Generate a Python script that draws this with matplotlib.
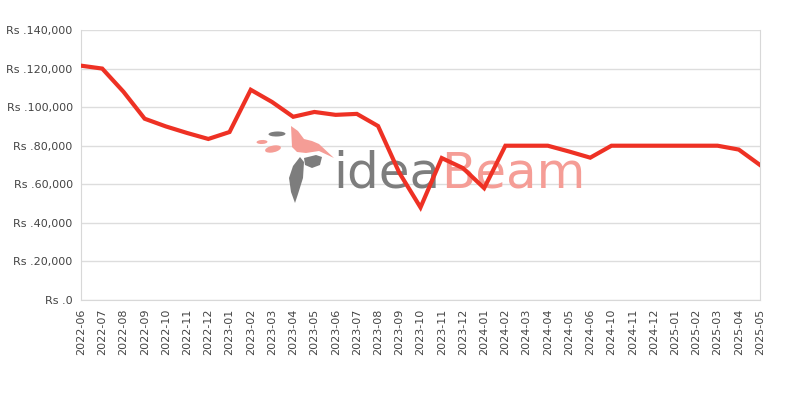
import matplotlib.pyplot as plt
from matplotlib.patches import Ellipse, Polygon

months = ['2022-06', '2022-07', '2022-08', '2022-09', '2022-10', '2022-11', '2022-12',
          '2023-01', '2023-02', '2023-03', '2023-04', '2023-05', '2023-06', '2023-07',
          '2023-08', '2023-09', '2023-10', '2023-11', '2023-12', '2024-01', '2024-02',
          '2024-03', '2024-04', '2024-05', '2024-06', '2024-10', '2024-11', '2024-12',
          '2025-01', '2025-02', '2025-03', '2025-04', '2025-05']
prices = [121500, 120000, 108000, 94000, 90000, 86600, 83500,
          87100, 109000, 102700, 95000, 97500, 96000, 96500,
          90200, 66000, 48000, 73600, 68400, 58000, 80000,
          80000, 80000, 77000, 73800, 80000, 80000, 80000,
          80000, 80000, 80000, 78000, 70000]
yticks = [0, 20000, 40000, 60000, 80000, 100000, 120000, 140000]

GRAY = '#7d7d7d'
PINK = '#f59d96'

fig = plt.figure(figsize=(8, 4), dpi=100, facecolor='white')
ax = fig.add_axes([81/800, 100/400, 679/800, 270/400])


def fp(pts):
    # pixel coords (top-left origin) -> figure fraction
    return [(x / 800, 1 - y / 400) for x, y in pts]


def logo_poly(pts, color):
    fig.patches.append(Polygon(fp(pts), closed=True, transform=fig.transFigure,
                               color=color, lw=0, zorder=1))


def logo_ell(cx, cy, w, h, ang, color):
    fig.patches.append(Ellipse((cx / 800, 1 - cy / 400), w / 800, h / 400, angle=ang,
                               transform=fig.transFigure, color=color, lw=0, zorder=1))


# watermark logo
logo_poly([(291, 126), (298, 131), (304, 139), (312, 141), (319, 144), (334, 158),
           (319, 151), (306, 153), (297, 152), (292, 147)], PINK)
logo_poly([(300, 157), (304, 162), (303, 178), (298, 194), (295, 203), (291, 192),
           (289, 178), (293, 166)], GRAY)
logo_poly([(304, 158), (316, 155), (322, 157), (320, 165), (312, 168), (305, 165)], GRAY)
logo_ell(277, 134, 17, 5, 5, GRAY)
logo_ell(273, 149, 18, 6, 40, PINK)
logo_ell(262, 142, 11, 4, 10, PINK)
ax.text(333 / 800, 1 - 188 / 400, 'idea', transform=fig.transFigure, fontsize=36,
        color=GRAY, va='baseline', ha='left', zorder=1)
ax.text(441 / 800, 1 - 188 / 400, 'Beam', transform=fig.transFigure, fontsize=36,
        color=PINK, va='baseline', ha='left', zorder=1)

x = list(range(len(months)))
ax.plot(x, prices, color='#ee3124', lw=3, zorder=3, solid_joinstyle='miter')

ax.set_xlim(0, len(months) - 1)
ax.set_ylim(0, 140000)
ax.set_yticks(yticks)
ax.set_yticklabels(['Rs .{:,}'.format(v) for v in yticks])
ax.set_xticks(x)
ax.set_xticklabels(months, rotation=90)
ax.tick_params(length=0, labelsize=8, labelcolor='#444444', pad=6)
ax.grid(axis='y', color='#dddddd', lw=1)
ax.set_axisbelow(True)
ax.patch.set_alpha(0)
for side in ['left', 'right', 'bottom']:
    ax.spines[side].set_color('#d8d8d8')
ax.spines['top'].set_visible(False)

fig.savefig('out.png', dpi=100)
